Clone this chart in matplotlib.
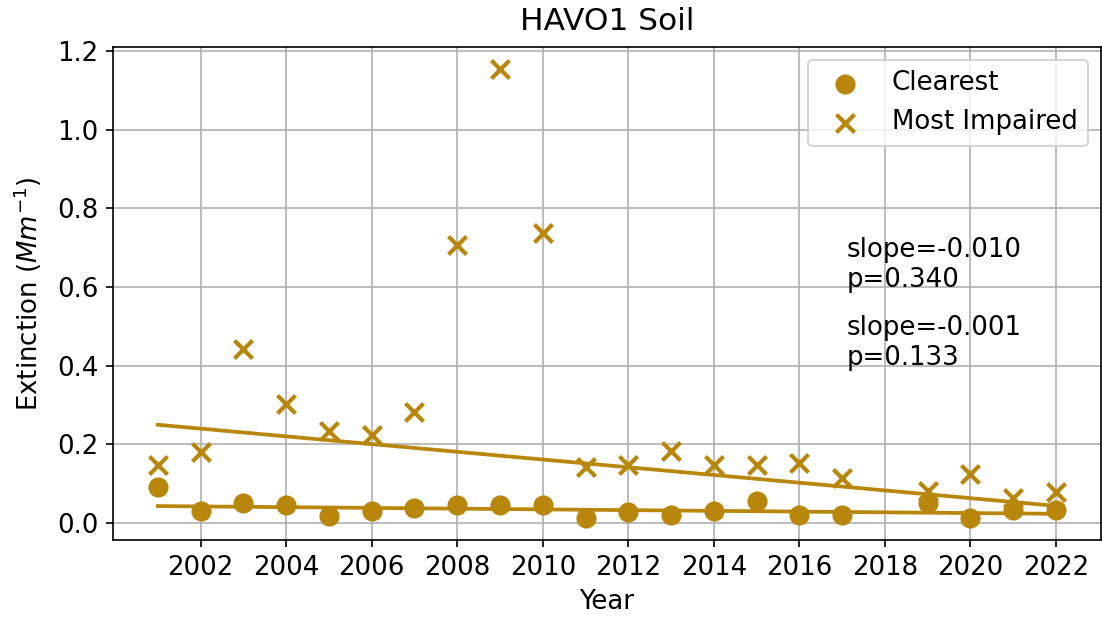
import numpy as np
import matplotlib
matplotlib.use("Agg")
import matplotlib.pyplot as plt

years = [2001, 2002, 2003, 2004, 2005, 2006, 2007, 2008, 2009, 2010, 2011,
         2012, 2013, 2014, 2015, 2016, 2017, 2019, 2020, 2021, 2022]
clearest = [0.090, 0.031, 0.051, 0.044, 0.018, 0.031, 0.038, 0.046, 0.046, 0.046, 0.013,
            0.026, 0.020, 0.031, 0.056, 0.020, 0.020, 0.051, 0.013, 0.033, 0.033]
impaired = [0.146, 0.179, 0.443, 0.302, 0.233, 0.223, 0.281, 0.706, 1.154, 0.737, 0.143,
            0.146, 0.182, 0.146, 0.146, 0.151, 0.113, 0.082, 0.123, 0.064, 0.079]
xticks = list(range(2002, 2023, 2))
yticks = [0.0, 0.2, 0.4, 0.6, 0.8, 1.0, 1.2]
color = "#B8860B"


def theil_sen(x, y):
    slopes = []
    for i in range(len(x)):
        for j in range(i + 1, len(x)):
            slopes.append((y[j] - y[i]) / (x[j] - x[i]))
    s = np.median(slopes)
    b = np.median(y) - s * np.median(x)
    return s, b


fig = plt.figure(figsize=(1102/150, 623/150), dpi=150)
ax = fig.add_axes([0.1025, 0.1332, 0.8965, 0.7914])

x = np.array(years, dtype=float)
c = np.array(clearest)
m = np.array(impaired)

ax.scatter(x, c, s=75, color=color, marker='o', label='Clearest', zorder=3)
ax.scatter(x, m, s=75, color=color, marker='x', linewidths=2, label='Most Impaired', zorder=3)

sc, bc = theil_sen(x, c)
sm, bm = theil_sen(x, m)
ax.plot(x, sc * x + bc, color=color, lw=1.8, zorder=2)
ax.plot(x, sm * x + bm, color=color, lw=1.8, zorder=2)

fs = 12.5
ax.text(2017.1, 0.585, "slope=-0.010\np=0.340", fontsize=fs, va='bottom')
ax.text(2017.1, 0.385, "slope=-0.001\np=0.133", fontsize=fs, va='bottom')

ax.set_xticks(xticks)
ax.set_yticks(yticks)
ax.grid(True, zorder=0)
ax.set_axisbelow(True)
ax.set_xlabel("Year", fontsize=fs)
ax.set_ylabel("Extinction ($Mm^{-1}$)", fontsize=fs, labelpad=6)
ax.set_title("HAVO1 Soil", fontsize=15, pad=8)
ax.tick_params(labelsize=fs)
ax.legend(loc='upper right', fontsize=fs)

fig.savefig("out.png", dpi=150)
